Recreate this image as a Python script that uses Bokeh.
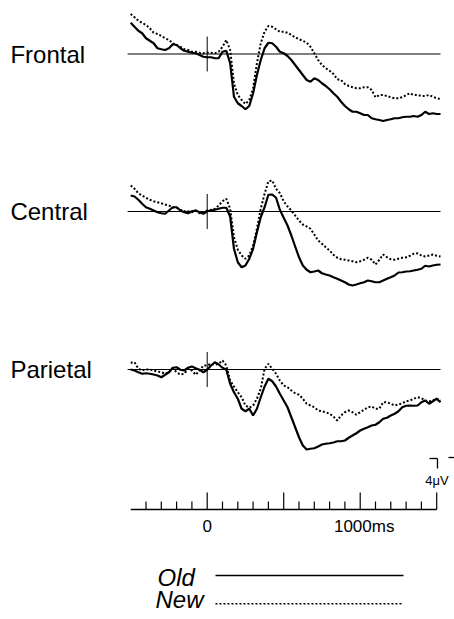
from bokeh.plotting import figure
from bokeh.models import Range1d
from bokeh.core.properties import value
from bokeh.embed import file_html
from bokeh.resources import INLINE

# ---------------- data ----------------
# sampling times (ms), 25 ms step
times = list(range(-500, 1526, 25))

# ERP amplitudes in microvolts (negative plotted up)
frontal_old = [-12.5, -10.9, -9.3, -8.3, -6.3, -5.3, -4.3, -2.3, -1.9, -1.6,
               -2.3, -3.9, -3.6, -2.3, -1.3, -0.9, -0.5, -0.3, 0.4, 1.1,
               1.3, 1.3, 1.7, 1.7, -0.9, -1.3, 3.7, 17.1, 19.7, 20.8,
               22.1, 20.8, 15.7, 8.4, 2.4, -2.3, -4.5, -4.3, -2.9, -0.9,
               -0.3, 0.8, 2.4, 4.4, 6.4, 8.4, 10.4, 11.1, 9.7, 10.4,
               11.7, 12.8, 14.1, 15.7, 17.1, 19.1, 20.8, 22.1, 23.1, 23.1,
               23.7, 24.4, 24.4, 25.7, 26.1, 26.4, 26.8, 26.4, 26.1, 25.7,
               25.7, 25.3, 25.1, 25.1, 24.8, 25.1, 24.4, 23.1, 24.0, 23.7,
               24.0, 24.0]
frontal_new = [-16.0, -14.7, -13.3, -12.5, -11.6, -10.3, -8.5, -8.0, -7.2, -6.3,
               -5.6, -4.3, -3.6, -2.9, -1.9, -1.6, -0.9, -0.9, -0.5, -0.3,
               -0.5, -0.5, -0.3, -0.9, -2.9, -5.6, -1.6, 11.7, 16.4, 18.4,
               20.0, 18.4, 13.7, 3.7, -4.3, -8.9, -11.2, -10.9, -9.9, -8.9,
               -8.9, -8.5, -7.6, -6.7, -5.9, -5.3, -4.5, -2.9, -0.3, 2.4,
               4.4, 5.7, 6.7, 8.0, 10.1, 10.4, 12.0, 12.8, 13.3, 13.7,
               13.7, 13.3, 13.3, 14.4, 17.3, 16.4, 16.4, 16.8, 17.3, 17.7,
               17.7, 17.3, 16.4, 15.7, 16.4, 16.4, 16.8, 16.8, 16.4, 17.1,
               17.7, 18.0]
central_old = [-6.4, -6.0, -4.7, -3.1, -1.7, -1.1, -0.4, 0.3, 0.7, 0.9,
               -0.4, -1.7, -1.7, -0.4, 0.3, 0.7, -0.1, -0.4, 0.3, 0.9,
               -0.1, -0.4, -0.7, -1.1, -1.5, -1.5, 2.0, 14.9, 20.3, 22.3,
               21.6, 18.9, 14.9, 8.3, 2.3, -1.7, -6.7, -6.8, -5.5, -0.7,
               2.5, 5.6, 9.6, 14.0, 18.3, 21.6, 23.3, 24.3, 24.0, 23.6,
               24.7, 25.2, 25.6, 26.3, 26.9, 27.6, 28.3, 29.2, 29.6, 29.2,
               28.7, 28.3, 27.6, 27.9, 28.3, 28.3, 27.6, 26.9, 26.3, 25.6,
               24.4, 24.3, 24.0, 23.9, 23.6, 23.3, 22.9, 21.7, 22.0, 21.6,
               21.3, 21.2]
central_new = [-10.4, -9.1, -7.3, -6.4, -5.5, -4.7, -4.1, -3.7, -3.3, -2.8,
               -2.4, -1.7, -1.5, -0.7, -0.1, -0.1, 0.3, -0.4, 0.7, 0.3,
               -0.4, -0.7, -1.1, -2.4, -4.1, -5.1, -1.1, 10.3, 15.3, 17.6,
               18.9, 17.6, 13.6, 6.9, -1.1, -7.1, -12.1, -12.4, -9.1, -7.3,
               -4.1, -2.0, -0.4, 1.6, 3.6, 5.2, 6.0, 6.9, 9.2, 11.6,
               12.9, 14.3, 15.6, 17.3, 18.5, 19.1, 19.3, 19.6, 19.9, 20.3,
               19.9, 19.3, 18.5, 19.3, 21.2, 19.3, 17.2, 18.3, 19.1, 19.3,
               18.9, 18.5, 18.3, 17.7, 16.9, 16.7, 17.6, 18.0, 17.6, 17.2,
               17.7, 18.0]
parietal_old = [0.0, 0.4, 1.1, 1.7, 1.5, 1.7, 2.0, 2.4, 3.1, 2.1,
                1.1, -0.7, -0.9, 0.1, 0.4, -0.7, -1.2, -0.5, 0.1, 1.1,
                0.1, -1.6, -2.9, -2.0, -0.7, 0.1, 5.7, 9.1, 11.7, 15.7,
                16.7, 15.7, 18.4, 15.7, 11.1, 6.8, 3.7, 4.7, 6.8, 9.7,
                12.4, 15.1, 19.1, 23.1, 27.1, 30.4, 32.0, 31.7, 31.5, 30.8,
                30.0, 29.7, 29.5, 29.2, 28.7, 28.7, 28.4, 27.3, 26.4, 25.5,
                24.4, 23.7, 23.1, 22.4, 22.1, 21.1, 19.7, 19.3, 18.4, 17.7,
                16.7, 15.1, 14.5, 14.4, 14.5, 14.4, 13.1, 12.4, 13.7, 12.7,
                11.7, 13.1]
parietal_new = [-2.7, -2.9, -0.3, 0.4, 0.0, 0.0, 0.4, 0.8, 1.1, 1.7,
                1.1, -0.5, 1.1, 2.0, 1.7, -0.3, 0.4, 2.1, 0.4, -1.6,
                -1.6, -2.3, -1.9, -2.3, -3.6, -1.6, 4.4, 6.8, 9.1, 11.1,
                14.4, 15.3, 14.4, 11.7, 7.7, -0.3, -2.3, -0.3, 1.7, 4.4,
                6.4, 7.1, 8.4, 9.5, 10.1, 11.7, 13.7, 14.4, 15.1, 16.4,
                16.7, 17.1, 17.7, 18.8, 20.4, 18.4, 17.1, 16.4, 17.1, 18.1,
                17.1, 16.1, 15.1, 14.8, 15.7, 15.7, 13.1, 13.1, 13.7, 14.4,
                14.0, 13.5, 12.7, 12.4, 11.7, 11.1, 11.5, 12.4, 12.8, 12.4,
                11.7, 12.4]

channels = ["Frontal", "Central", "Parietal"]
old_series = [frontal_old, central_old, parietal_old]
new_series = [frontal_new, central_new, parietal_new]

minor_ticks = [-400, -300, -200, -100, 100, 200, 300, 400,
               600, 700, 800, 900, 1100, 1200, 1300, 1400]
major_ticks = [0, 500, 1000, 1500]
tick_label_values = [0, 1000]
tick_label_texts = ["0", "1000ms"]
scale_bar_uv = 4
scale_label = "4\u03bcV"
legend_labels = ["Old", "New"]

# ---------------- layout ----------------
W, H = 454, 619
PX_PER_MS = 0.153
PX_PER_UV = 2.5
X0_PX = 206.7
FONT = value("Liberation Sans")

p = figure(width=W, height=H, output_backend="svg", toolbar_location=None,
           x_range=Range1d(-X0_PX / PX_PER_MS, (W - X0_PX) / PX_PER_MS),
           y_range=Range1d(H / PX_PER_UV, 0),
           min_border=0, x_axis_location=None, y_axis_location=None,
           outline_line_color=None)
p.background_fill_color = "white"
p.border_fill_color = "white"
p.grid.grid_line_color = None
p.xgrid.visible = False
p.ygrid.visible = False

baselines = [21.4, 84.4, 147.6]  # vertical positions of channel zero lines

for name, b, old, new in zip(channels, baselines, old_series, new_series):
    p.segment(x0=[-520], x1=[1525], y0=[b], y1=[b], line_color="black", line_width=1)
    p.segment(x0=[0], x1=[0], y0=[b - 7], y1=[b + 7], line_color="black", line_width=1)
    p.line(times, [b + v for v in new], line_color="black", line_width=2,
           line_dash="2 2")
    p.line(times, [b + v for v in old], line_color="black", line_width=2.2)
    p.text(x=[-1286], y=[b], text=[name], text_font=FONT,
           text_font_size=value("24px"), text_baseline="middle", text_align="left",
           text_color="black")

# time axis
ax_y = 203.6
p.segment(x0=[-500], x1=[1500], y0=[ax_y], y1=[ax_y], line_color="black", line_width=1.3)
p.segment(x0=minor_ticks, x1=minor_ticks, y0=[ax_y] * len(minor_ticks),
          y1=[ax_y - 3.2] * len(minor_ticks), line_color="black", line_width=1.2)
p.segment(x0=major_ticks, x1=major_ticks, y0=[ax_y] * len(major_ticks),
          y1=[ax_y - 6.8] * len(major_ticks), line_color="black", line_width=1.2)
p.text(x=tick_label_values[:1], y=[ax_y + 6.6], text=tick_label_texts[:1],
       text_font=FONT, text_font_size=value("17px"), text_align="center",
       text_baseline="middle")
p.text(x=tick_label_values[1:], y=[ax_y + 6.6], text=tick_label_texts[1:],
       text_font=FONT, text_font_size=value("17px"), text_align="center",
       text_baseline="middle", x_offset=4)

# scale bar
sb_top = 183.2
p.segment(x0=[1453], x1=[1505], y0=[sb_top], y1=[sb_top], line_color="black", line_width=1.3)
p.segment(x0=[1505], x1=[1505], y0=[sb_top], y1=[sb_top + scale_bar_uv],
          line_color="black", line_width=1.3)
p.segment(x0=[1577], x1=[1616], y0=[sb_top - 0.4], y1=[sb_top - 0.4],
          line_color="black", line_width=1.3)
p.text(x=[1502], y=[192], text=[scale_label], text_font=FONT,
       text_font_size=value("13px"), text_align="center", text_baseline="middle")

# legend
p.text(x=[-325], y=[230.6], text=[legend_labels[0]], text_font=FONT,
       text_font_size=value("24px"), text_font_style="italic",
       text_align="left", text_baseline="middle")
p.segment(x0=[54], x1=[1283], y0=[230], y1=[230], line_color="black", line_width=1.5)
p.text(x=[-338], y=[239.4], text=[legend_labels[1]], text_font=FONT,
       text_font_size=value("24px"), text_font_style="italic",
       text_align="left", text_baseline="middle")
p.segment(x0=[54], x1=[1283], y0=[241.3], y1=[241.3], line_color="black",
          line_width=1.3, line_dash="2 2")

open("out.html", "w").write(file_html(p, INLINE))
